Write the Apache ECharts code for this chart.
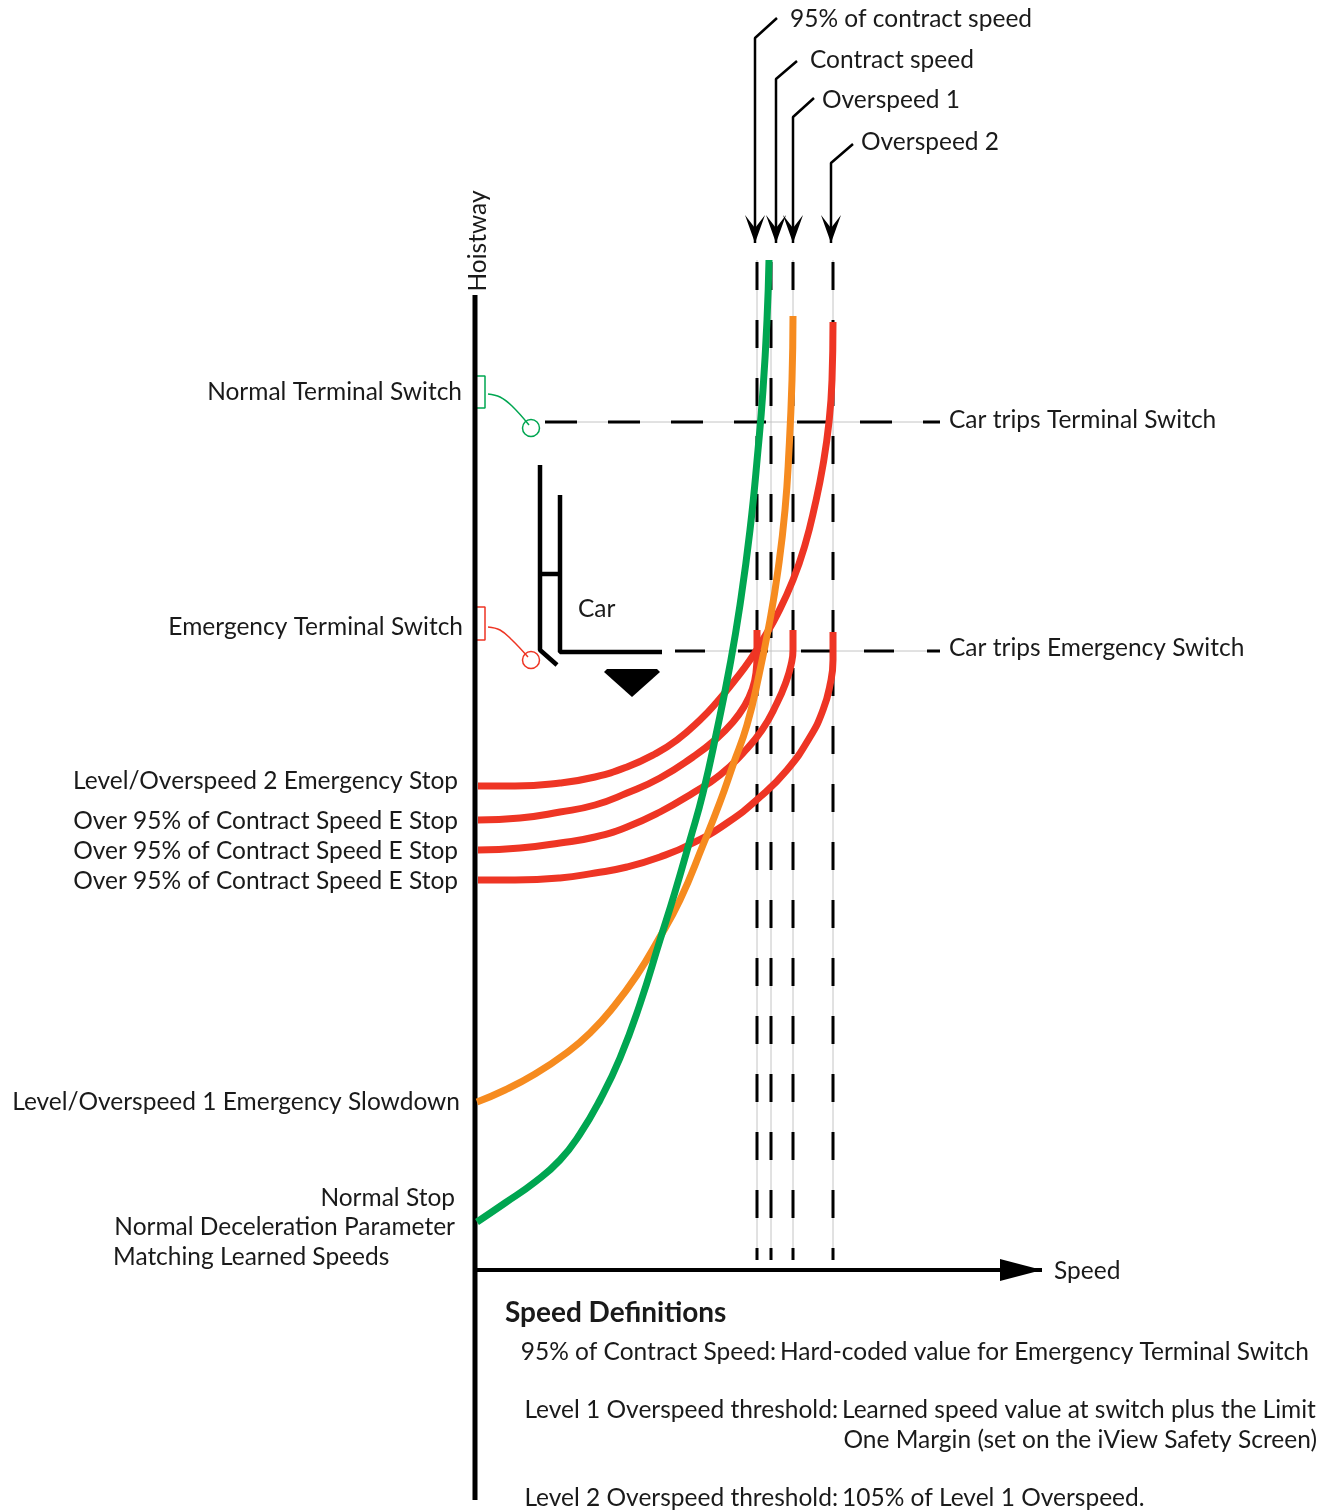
<!DOCTYPE html>
<html>
<head>
<meta charset="utf-8">
<script src="https://cdn.jsdelivr.net/npm/echarts@6/dist/echarts.min.js"></script>
<style>
html, body { margin: 0; padding: 0; background: #fff; }
#main { width: 1338px; height: 1511px; }
</style>
</head>
<body>
<div id="main"></div>
<script>
// units: speed = distance right of the hoistway line, height = distance above the speed axis
var speedLevels = [282, 296, 318, 358];        // 95% contract, contract, overspeed 1, overspeed 2
var speedLevelNames = ['95% of contract speed', 'Contract speed', 'Overspeed 1', 'Overspeed 2'];
var normalSwitchHeight = 848;
var emergencySwitchHeight = 619;

// normal stop profile (green)
var normalStop = [[2, 48], [30, 67], [60, 88], [85, 110], [105, 136], [125, 170], [145, 212], [165, 266],
    [185, 330], [200, 378], [215, 430], [228, 477], [242, 540], [255, 605], [265, 665], [275, 740],
    [283, 820], [288, 880], [292, 950], [294, 1010]];
// level / overspeed 1 emergency slowdown (orange)
var slowdown1 = [[2, 168], [30, 180], [60, 196], [90, 216], [115, 237], [140, 265], [162, 295], [182, 328],
    [205, 370], [228, 425], [245, 468], [258, 505], [272, 545], [284, 595], [295, 650], [303, 700],
    [310, 760], [314, 820], [317, 890], [318, 954]];
// level / overspeed 2 emergency stop (red)
var eStop2 = [[3, 484], [40, 484], [85, 487], [120, 493], [152, 503], [180, 516], [202, 530], [225, 550],
    [242, 568], [260, 590], [275, 610], [290, 634], [302, 655], [318, 690], [330, 725], [340, 765],
    [348, 805], [354, 848], [357, 890], [358, 948]];
// over 95% of contract speed e-stops (red)
var eStopA = [[3, 450], [45, 452], [85, 458], [120, 465], [152, 477], [185, 492], [218, 513], [240, 530],
    [258, 548], [270, 565], [277, 580], [281, 597], [282, 615], [282, 640]];
var eStopB = [[3, 420], [45, 422], [85, 427], [120, 433], [152, 443], [185, 458], [218, 477], [245, 495],
    [268, 517], [287, 540], [302, 567], [311, 588], [316, 605], [318, 620], [318, 640]];
var eStopC = [[3, 390], [40, 390], [85, 392], [120, 397], [152, 403], [185, 413], [218, 427], [252, 447],
    [285, 473], [312, 500], [335, 533], [348, 560], [355, 585], [358, 610], [358, 638]];

var GREEN = '#00a651', ORANGE = '#f68b1f', RED = '#ee3524', GREY = '#c4c4c4';
var FONT = '24.5px Lato, "Open Sans", sans-serif';

var chart = echarts.init(document.getElementById('main'));
var series = [];

function addLine(points, color, width, z, dash) {
    series.push({
        type: 'line',
        data: points,
        symbol: 'none',
        z: z,
        silent: true,
        lineStyle: {color: color, width: width, type: dash || 'solid', cap: 'butt'}
    });
}

function addCurve(points, color, width, z, smooth) {
    series.push({
        type: 'line',
        data: points,
        symbol: 'none',
        smooth: smooth,
        z: z,
        silent: true,
        lineStyle: {color: color, width: width, cap: 'butt'}
    });
}

function addArrowLine(points, head, size, offset, width) {
    var data = [];
    for (var i = 0; i < points.length; i++) {
        if (i == points.length - 1) {
            data.push({value: points[i], symbol: head, symbolSize: size, symbolOffset: offset});
        } else {
            data.push({value: points[i], symbol: 'none'});
        }
    }
    series.push({
        type: 'line',
        data: data,
        showSymbol: true,
        z: 6,
        silent: true,
        itemStyle: {color: '#000', opacity: 1},
        lineStyle: {color: '#000', width: width, cap: 'butt'}
    });
}

// axes of the diagram
addLine([[0, 975], [0, -230]], '#000', 5, 5);
addArrowLine([[0, 0], [567, 0]], 'path://M0,0L42,11L0,22Z', [42, 22], ['-50%', 0], 4);

// speed level markers
for (var i = 0; i < speedLevels.length; i++) {
    addLine([[speedLevels[i], 1010], [speedLevels[i], 10]], GREY, 1, 2);
    addLine([[speedLevels[i], 1008], [speedLevels[i], 10]], '#000', 3, 3, [28, 30]);
}
// arrows from the speed level names
var arrowDown = 'path://M0,28L-10,0L0,13L10,0Z';
addArrowLine([[302, 1252], [280, 1232], [280, 1027]], arrowDown, [20, 28], [0, '-50%'], 2.5);
addArrowLine([[322, 1209], [301, 1191], [301, 1027]], arrowDown, [20, 28], [0, '-50%'], 2.5);
addArrowLine([[339, 1172], [318, 1153], [318, 1027]], arrowDown, [20, 28], [0, '-50%'], 2.5);
addArrowLine([[378, 1126], [356, 1107], [356, 1027]], arrowDown, [20, 28], [0, '-50%'], 2.5);

// switch trip lines
addLine([[70, normalSwitchHeight], [465, normalSwitchHeight]], GREY, 1, 2);
addLine([[70, normalSwitchHeight], [465, normalSwitchHeight]], '#000', 3, 3, [32, 31]);
addLine([[200, emergencySwitchHeight], [465, emergencySwitchHeight]], GREY, 1, 2);
addLine([[200, emergencySwitchHeight], [465, emergencySwitchHeight]], '#000', 3, 3, [30, 33]);

// switches on the hoistway
addLine([[2, 894], [10, 894], [10, 862], [2, 862]], GREEN, 1.5, 4);
addLine([[2, 663], [10, 663], [10, 630], [2, 630]], RED, 1.5, 4);
addCurve([[13, 876], [25, 873], [37, 864], [54, 845]], GREEN, 1.5, 4, 0.4);
addCurve([[13, 643], [25, 640], [37, 630], [53, 613]], RED, 1.5, 4, 0.4);
series.push({
    type: 'scatter',
    data: [{value: [56, 842], itemStyle: {borderColor: GREEN}}, {value: [56, 610], itemStyle: {borderColor: RED}}],
    symbol: 'circle',
    symbolSize: 17,
    z: 4,
    silent: true,
    itemStyle: {color: 'rgba(0,0,0,0)', borderWidth: 1.5, opacity: 1}
});

// the car
addLine([[65, 805], [65, 620], [82, 605]], '#000', 4.5, 5);
addLine([[85, 775], [85, 618], [187, 618]], '#000', 4.5, 5);
addLine([[65, 696], [85, 696]], '#000', 4.5, 5);
series.push({
    type: 'scatter',
    data: [[157, 587]],
    symbol: 'path://M3,0L53,0L56,3L28,28L0,3Z',
    symbolSize: [56, 28],
    z: 5,
    silent: true,
    itemStyle: {color: '#000', opacity: 1}
});

// speed profiles
addCurve(eStop2, RED, 7, 7, 0.5);
addCurve(eStopA, RED, 7, 7, 0.5);
addCurve(eStopB, RED, 7, 7, 0.5);
addCurve(eStopC, RED, 7, 7, 0.5);
addCurve(slowdown1, ORANGE, 7, 8, 0.5);
addCurve(normalStop, GREEN, 7, 9, 0.5);

// texts: [text, x, y, align, font]
var texts = [
    [speedLevelNames[0], 790, 19, 'left'],
    [speedLevelNames[1], 810, 60, 'left'],
    [speedLevelNames[2], 822, 100, 'left'],
    [speedLevelNames[3], 861, 142, 'left'],
    ['Normal Terminal Switch', 462, 392, 'right'],
    ['Emergency Terminal Switch', 463, 627, 'right'],
    ['Car', 578, 609, 'left'],
    ['Car trips Terminal Switch', 949, 420, 'left'],
    ['Car trips Emergency Switch', 949, 648, 'left'],
    ['Level/Overspeed 2 Emergency Stop', 458, 781, 'right'],
    ['Over 95% of Contract Speed E Stop', 458, 821, 'right'],
    ['Over 95% of Contract Speed E Stop', 458, 851, 'right'],
    ['Over 95% of Contract Speed E Stop', 458, 881, 'right'],
    ['Level/Overspeed 1 Emergency Slowdown', 460, 1102, 'right'],
    ['Normal Stop', 455, 1198, 'right'],
    ['Normal Deceleration Parameter', 455, 1227, 'right'],
    ['Matching Learned Speeds', 113, 1257, 'left'],
    ['Speed', 1054, 1271, 'left'],
    ['Speed Definitions', 505, 1313, 'left', 'bold 28px Lato, "Open Sans", sans-serif'],
    ['95% of Contract Speed:', 776, 1352, 'right'],
    ['Hard-coded value for Emergency Terminal Switch', 780, 1352, 'left'],
    ['Level 1 Overspeed threshold:', 838, 1410, 'right'],
    ['Learned speed value at switch plus the Limit', 842, 1410, 'left'],
    ['One Margin (set on the iView Safety Screen)', 1317, 1440, 'right'],
    ['Level 2 Overspeed threshold:', 838, 1498, 'right'],
    ['105% of Level 1 Overspeed.', 842, 1498, 'left']
];
var graphic = [];
for (var j = 0; j < texts.length; j++) {
    graphic.push({
        type: 'text',
        x: texts[j][1],
        y: texts[j][2],
        z: 20,
        silent: true,
        style: {
            text: texts[j][0],
            font: texts[j][4] || FONT,
            fill: '#1a1a1a',
            align: texts[j][3],
            textAlign: texts[j][3],
            verticalAlign: 'middle',
            textVerticalAlign: 'middle'
        }
    });
}
graphic.push({
    type: 'text',
    x: 478,
    y: 241,
    rotation: Math.PI / 2,
    z: 20,
    silent: true,
    style: {text: 'Hoistway', font: FONT, fill: '#1a1a1a', align: 'center', textAlign: 'center',
        verticalAlign: 'middle', textVerticalAlign: 'middle'}
});

var option = {
    animation: false,
    backgroundColor: '#fff',
    grid: {left: 0, right: 0, top: 0, bottom: 0},
    xAxis: {type: 'value', min: -475, max: 863, show: false},
    yAxis: {type: 'value', min: -241, max: 1270, show: false},
    series: series,
    graphic: graphic
};
chart.setOption(option);
</script>
</body>
</html>
